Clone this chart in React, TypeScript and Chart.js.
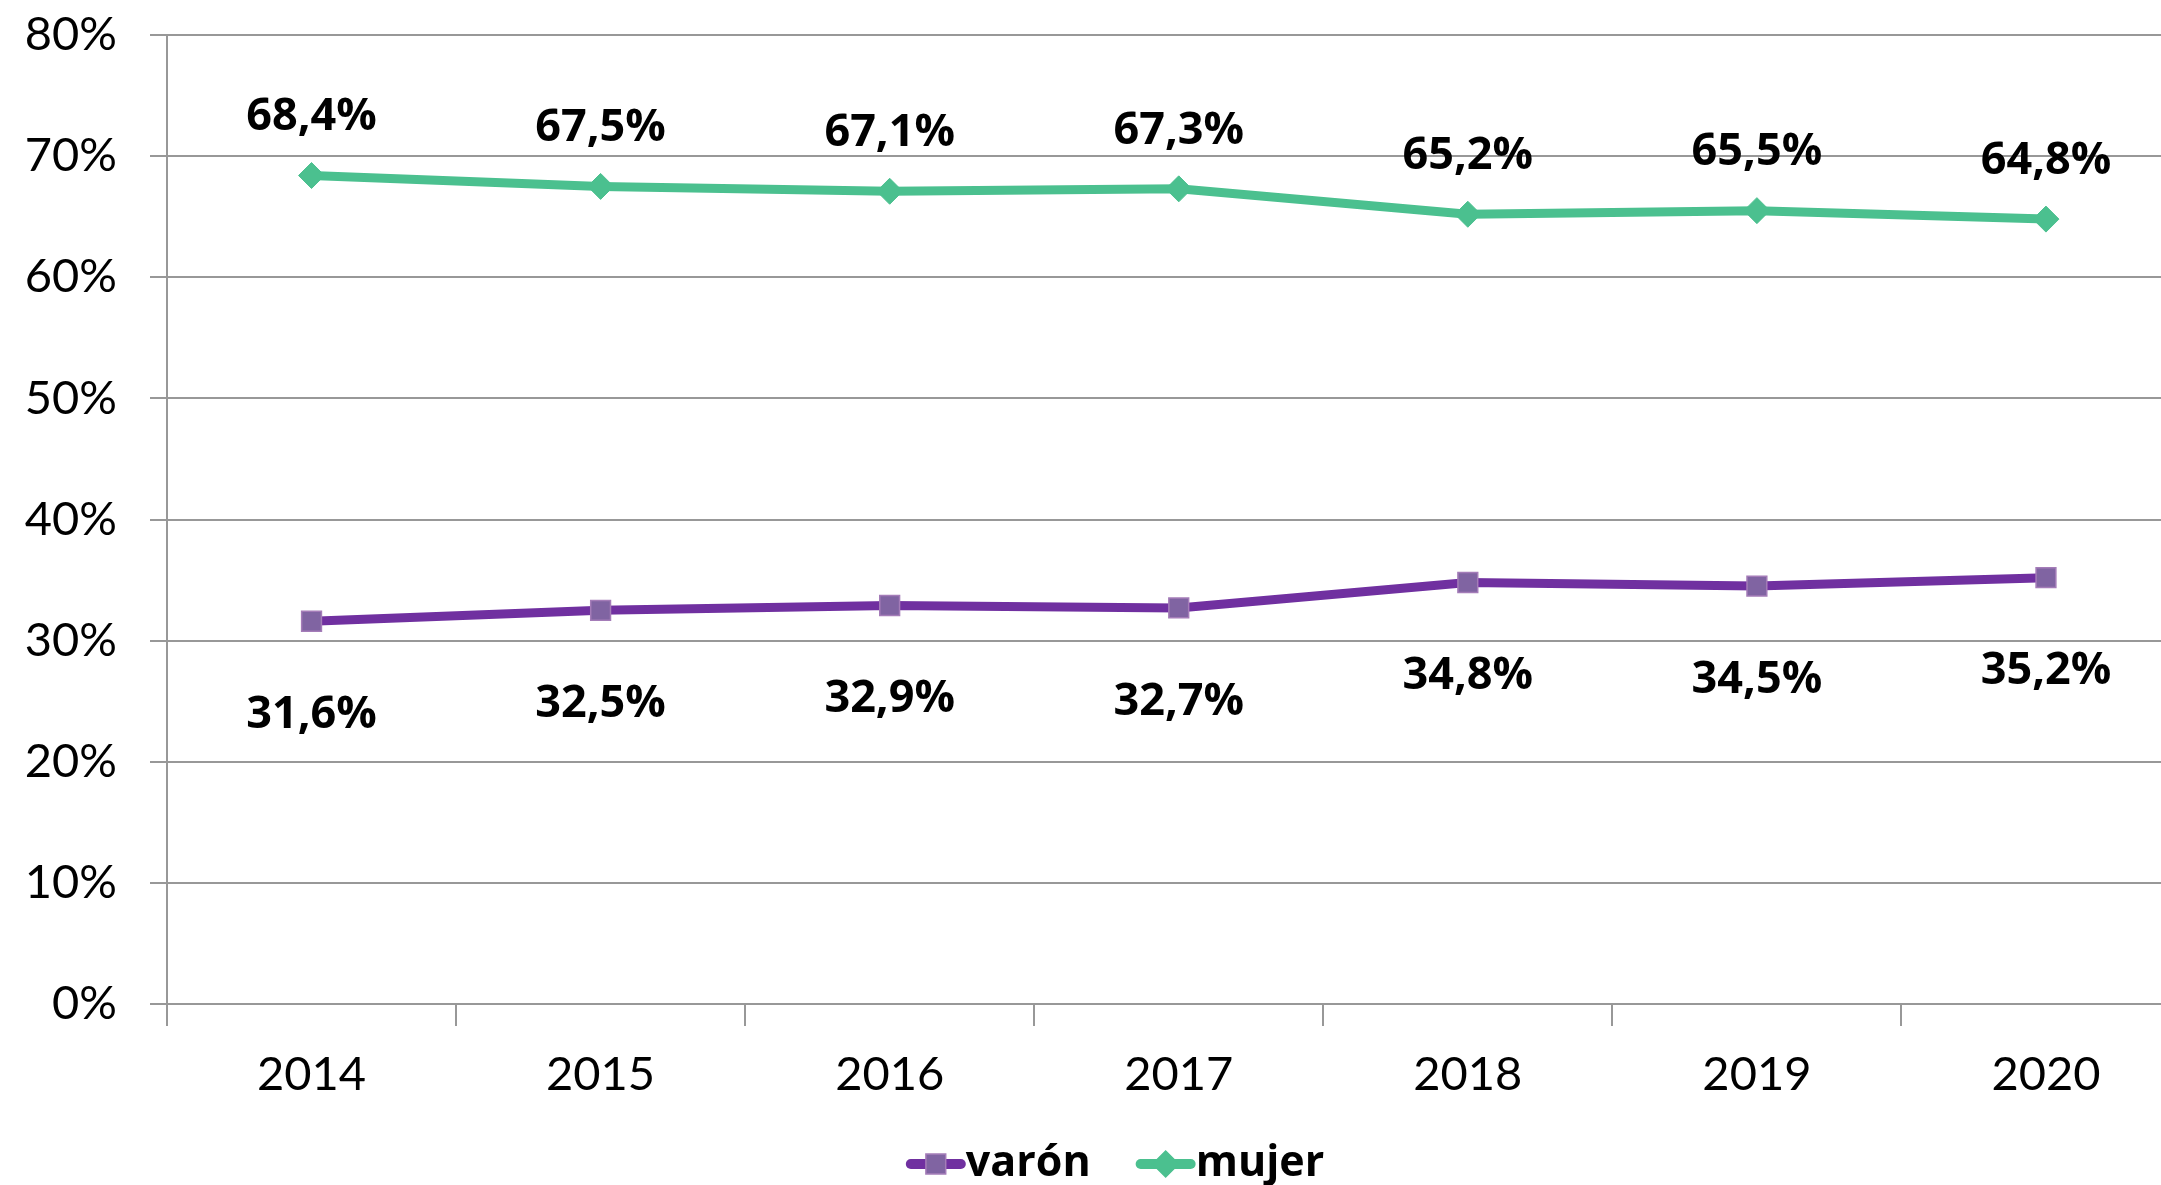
import React, { useEffect, useRef } from 'react';
import { Chart, registerables } from 'chart.js';

Chart.register(...registerables);

// ---- data ----
const years: string[] = ['2014', '2015', '2016', '2017', '2018', '2019', '2020'];
const varon: number[] = [31.6, 32.5, 32.9, 32.7, 34.8, 34.5, 35.2];
const mujer: number[] = [68.4, 67.5, 67.1, 67.3, 65.2, 65.5, 64.8];
const seriesNames: string[] = ['varón', 'mujer'];
const yMin = 0;
const yMax = 80;
const yStep = 10;

// ---- style ----
const PURPLE = '#7030A0';
const PURPLE_MARK = '#8064A2';
const PURPLE_MARK_BORDER = '#A47CB8';
const GREEN = '#4BC08F';
const GRID = '#989898';
const TICK_FONT = { family: 'Lato', size: 47 };
const LABEL_FONT = 'bold 45px "Open Sans"';
const LEGEND_FONT = 'bold 43px "Open Sans"';

const fmt = (v: number) => v.toFixed(1).replace('.', ',') + '%';

const drawMarker = (ctx: CanvasRenderingContext2D, style: string, x: number, y: number, r: number, fill: string, stroke: string) => {
  ctx.save();
  ctx.fillStyle = fill;
  ctx.strokeStyle = stroke;
  ctx.lineWidth = 1.5;
  ctx.beginPath();
  if (style === 'rect') {
    const s = Math.SQRT1_2 * r;
    ctx.rect(x - s, y - s, 2 * s, 2 * s);
  } else {
    ctx.moveTo(x - r, y);
    ctx.lineTo(x, y - r);
    ctx.lineTo(x + r, y);
    ctx.lineTo(x, y + r);
    ctx.closePath();
  }
  ctx.fill();
  ctx.stroke();
  ctx.restore();
};

const dataLabelPlugin = {
  id: 'dataLabels',
  afterDatasetsDraw(chart: any) {
    const ctx = chart.ctx as CanvasRenderingContext2D;
    ctx.save();
    ctx.font = LABEL_FONT;
    ctx.fillStyle = '#000';
    ctx.textAlign = 'center';
    ctx.textBaseline = 'middle';
    chart.data.datasets.forEach((ds: any, i: number) => {
      const meta = chart.getDatasetMeta(i);
      meta.data.forEach((pt: any, j: number) => {
        ctx.fillText(fmt(ds.data[j]), pt.x, pt.y + ds.labelOffset);
      });
    });
    ctx.restore();
  },
};

const lineLegendPlugin = {
  id: 'lineLegend',
  afterDraw(chart: any) {
    const ctx = chart.ctx as CanvasRenderingContext2D;
    ctx.save();
    ctx.font = LEGEND_FONT;
    const lineW = 60;
    const gap = 45;
    const items = chart.data.datasets.map((ds: any) => ({ ds, w: ctx.measureText(ds.label).width }));
    const total = items.reduce((s: number, it: any) => s + lineW + it.w, 0) + gap * (items.length - 1);
    let x = 1115 - total / 2;
    const y = 1164;
    items.forEach(({ ds, w }: any) => {
      ctx.strokeStyle = ds.borderColor;
      ctx.lineWidth = 10;
      ctx.lineCap = 'round';
      ctx.beginPath();
      ctx.moveTo(x + 5, y);
      ctx.lineTo(x + lineW - 5, y);
      ctx.stroke();
      drawMarker(ctx, ds.pointStyle, x + lineW / 2, y, ds.pointRadius, ds.pointBackgroundColor, ds.pointBorderColor);
      ctx.fillStyle = '#000';
      ctx.textAlign = 'left';
      ctx.textBaseline = 'middle';
      ctx.fillText(ds.label, x + lineW, y);
      x += lineW + w + gap;
    });
    ctx.restore();
  },
};

export default function App() {
  const ref = useRef<HTMLCanvasElement | null>(null);

  useEffect(() => {
    if (!ref.current) return;
    document.body.style.overflow = 'hidden';
    const chart = new Chart(ref.current, {
      type: 'line',
      data: {
        labels: years,
        datasets: [
          {
            label: seriesNames[0],
            data: varon,
            borderColor: PURPLE,
            borderWidth: 9,
            tension: 0,
            pointStyle: 'rect',
            pointRadius: 14,
            pointBackgroundColor: PURPLE_MARK,
            pointBorderColor: PURPLE_MARK_BORDER,
            pointBorderWidth: 1.5,
            labelOffset: 94,
          } as any,
          {
            label: seriesNames[1],
            data: mujer,
            borderColor: GREEN,
            borderWidth: 9,
            tension: 0,
            pointStyle: 'rectRot',
            pointRadius: 13,
            pointBackgroundColor: GREEN,
            pointBorderColor: GREEN,
            pointBorderWidth: 1,
            labelOffset: -58,
          } as any,
        ],
      },
      options: {
        responsive: false,
        animation: false,
        devicePixelRatio: 1,
        layout: { padding: { top: 35, right: 4, bottom: 81, left: 0 } },
        plugins: {
          legend: { display: false },
          tooltip: { enabled: false },
        },
        scales: {
          x: {
            offset: true,
            grid: {
              offset: true,
              drawOnChartArea: false,
              drawTicks: true,
              color: GRID,
              lineWidth: 2,
              tickLength: 22,
            },
            border: { color: GRID, width: 2 },
            ticks: { font: TICK_FONT, color: '#000', padding: 21, maxRotation: 0, autoSkip: false },
            afterFit(s: any) {
              s.height = 100;
              s.paddingLeft = 0;
              s.paddingRight = 0;
            },
          },
          y: {
            min: yMin,
            max: yMax,
            ticks: {
              stepSize: yStep,
              font: TICK_FONT,
              color: '#000',
              padding: 33,
              callback: (v: any) => v + '%',
            },
            grid: { color: GRID, lineWidth: 2, tickLength: 17 },
            border: { color: GRID, width: 2 },
            afterFit(s: any) {
              s.width = 167;
              s.paddingTop = 0;
              s.paddingBottom = 0;
            },
          },
        },
      },
      plugins: [dataLabelPlugin, lineLegendPlugin],
    });
    return () => chart.destroy();
  }, []);

  return (
    <div style={{ position: 'fixed', left: 0, top: 0, width: 2161, height: 1185, overflow: 'hidden', background: '#fff' }}>
      <canvas ref={ref} width={2206} height={1185} style={{ width: 2206, height: 1185, display: 'block' }} />
    </div>
  );
}
